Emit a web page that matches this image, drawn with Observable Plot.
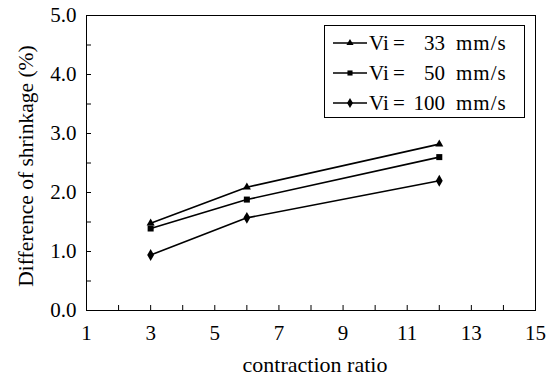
<!DOCTYPE html>
<html>
<head>
<meta charset="utf-8">
<script src="https://cdn.jsdelivr.net/npm/d3@7"></script>
<script src="https://cdn.jsdelivr.net/npm/@observablehq/plot@0.6"></script>
<style>
  html, body { margin: 0; padding: 0; background: #fff; }
  #wrap { position: relative; width: 552px; height: 382px; }
  #wrap, #wrap * { font-family: "Times New Roman", "Liberation Serif", "DejaVu Serif", serif; }
  #legend { position: absolute; left: 324px; top: 25px; width: 201px; height: 93px; border: 1px solid #000; box-sizing: border-box; background: #fff; }
  .row { position: absolute; left: 0; width: 199px; height: 30px; font-size: 21px; color: #000; }
  .row svg { position: absolute; left: 8px; top: 9px; }
  .row span { position: absolute; top: 0; line-height: 30px; white-space: nowrap; }
  .lbl { left: 44px; word-spacing: -1px; }
  .num { right: 79px; }
  .unit { left: 131px; letter-spacing: 1px; }
</style>
</head>
<body>
<div id="wrap"></div>
<script>
// Contraction ratios measured
const ratios = [3, 6, 12];
// Difference of shrinkage (%) for each injection speed
const v33 = [1.48, 2.09, 2.82];
const v50 = [1.39, 1.88, 2.60];
const v100 = [0.94, 1.57, 2.20];
const speeds = [33, 50, 100];
const symbols = ["triangle", "square", "diamond"];
const seriesValues = [v33, v50, v100];

const xTicks = d3.range(1, 16, 1);
const xLabels = [1, 3, 5, 7, 9, 11, 13, 15];
const yTicks = d3.range(0, 5.01, 0.5);
const yLabels = [0, 1, 2, 3, 4, 5];

const rows = speeds.flatMap((s, i) =>
  ratios.map((r, j) => ({speed: s, ratio: r, value: seriesValues[i][j], symbol: symbols[i]}))
);

const font = "'Times New Roman', 'Liberation Serif', 'DejaVu Serif', serif";
const markerR = {triangle: 3, square: 3.4, diamond: 3.6};

const chart = Plot.plot({
  width: 552,
  height: 382,
  marginLeft: 86,
  marginRight: 17,
  marginTop: 15,
  marginBottom: 72,
  style: {fontFamily: font, fontSize: "21px", color: "#000", background: "#fff"},
  x: {domain: [1, 15]},
  y: {domain: [0, 5]},
  symbol: {domain: symbols, range: symbols},
  marks: [
    Plot.frame({stroke: "#000", strokeWidth: 1}),
    // inward tick marks
    Plot.axisX({ticks: xTicks, tickSize: -5, tickFormat: () => "", label: null}),
    Plot.axisY({ticks: yTicks, tickSize: -5, tickFormat: () => "", label: null}),
    // tick labels
    Plot.axisX({ticks: xLabels, tickSize: 0, tickPadding: 15, fontSize: 21, fontFamily: font, label: null}),
    Plot.axisY({ticks: yLabels, tickSize: 0, tickPadding: 10, fontSize: 21, fontFamily: font, tickFormat: d3.format(".1f"), label: null}),
    Plot.text(["contraction ratio"], {frameAnchor: "bottom", dx: 4, dy: 61, fontSize: 22, fontFamily: font, text: d => d}),
    Plot.text(["Difference of shrinkage (%)"], {frameAnchor: "left", textAnchor: "middle", dx: -60, dy: 3, rotate: -90, fontSize: 21.5, fontFamily: font, text: d => d}),
    Plot.line(rows, {x: "ratio", y: "value", z: "speed", stroke: "#000", strokeWidth: 1.6}),
    ...symbols.map(s =>
      Plot.dot(rows.filter(d => d.symbol === s), {x: "ratio", y: "value", symbol: "symbol", fill: "#000", r: markerR[s]})
    )
  ]
});

const wrap = document.getElementById("wrap");
wrap.appendChild(chart);

// Legend box drawn over the upper right of the plot area
const legend = document.createElement("div");
legend.id = "legend";
const legendSym = [d3.symbolTriangle, d3.symbolSquare, d3.symbolDiamond];
const legendSize = [22, 26, 30];
speeds.forEach((s, i) => {
  const row = document.createElement("div");
  row.className = "row";
  row.style.top = (2 + i * 30) + "px";
  const sym = d3.symbol(legendSym[i], legendSize[i])();
  row.innerHTML =
    `<svg width="34" height="12" viewBox="0 0 34 12"><line x1="0" y1="6" x2="34" y2="6" stroke="#000" stroke-width="1.5"/>` +
    `<path d="${sym}" transform="translate(17,6)" fill="#000"/></svg>` +
    `<span class="lbl">Vi =</span><span class="num">${s}</span><span class="unit">mm/s</span>`;
  legend.appendChild(row);
});
wrap.appendChild(legend);
</script>
</body>
</html>
